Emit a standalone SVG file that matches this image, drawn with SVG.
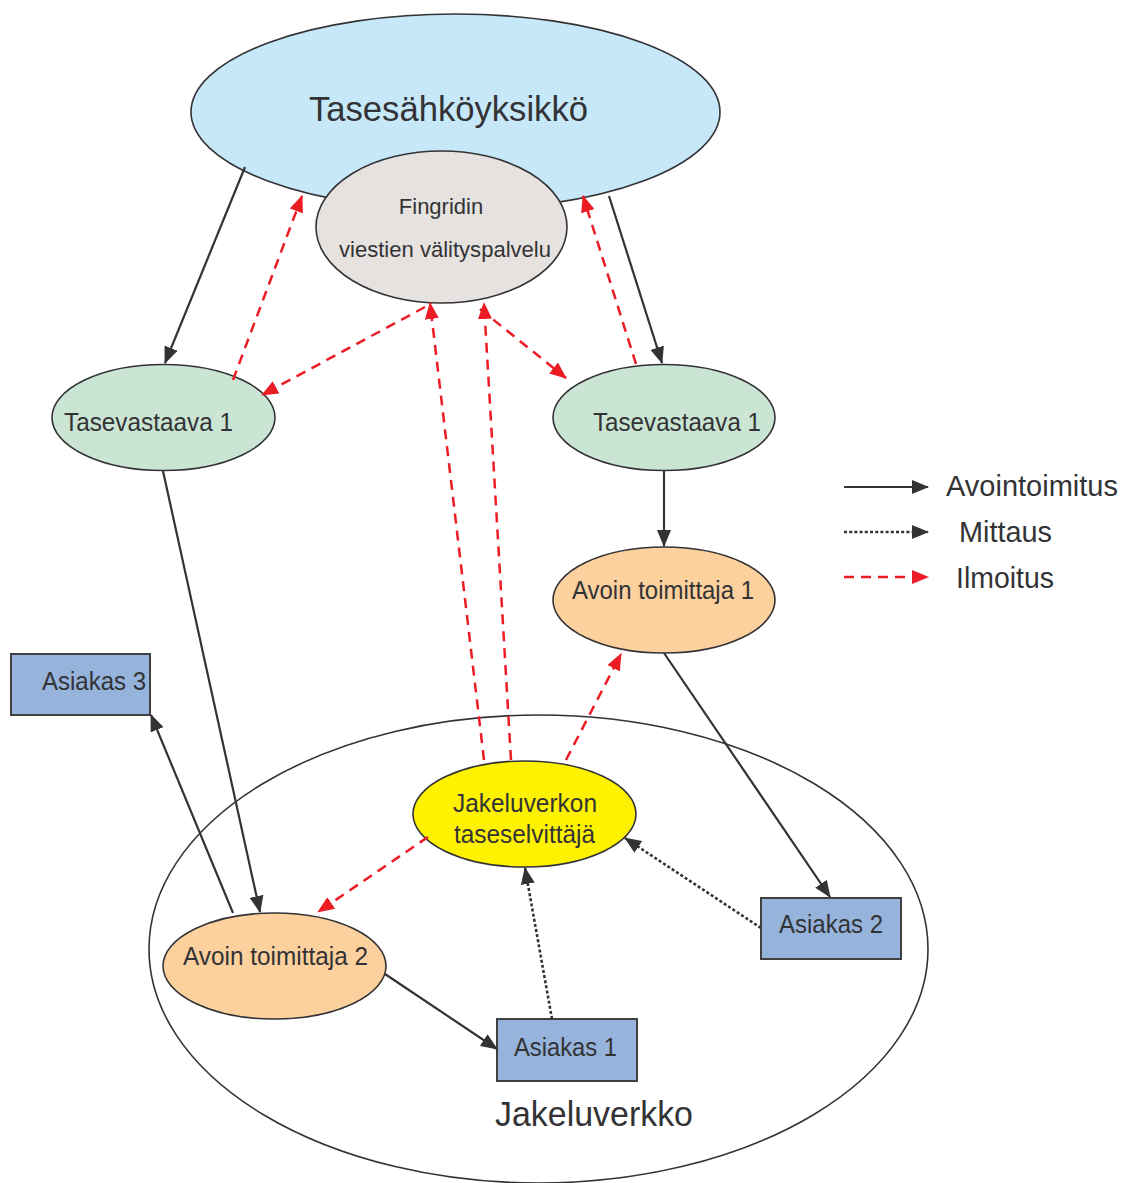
<svg xmlns="http://www.w3.org/2000/svg" width="1122" height="1183" viewBox="0 0 1122 1183">
  <style>
    text { font-family: "Liberation Sans", Arial, Helvetica, sans-serif; fill: #333336; }
    .node { stroke: #333336; stroke-width: 1.6; }
    .box { stroke: #404040; stroke-width: 2; }
    .lbl { font-size: 25px; }
    .solid { stroke: #333336; stroke-width: 2.2; fill: none; marker-end: url(#arrowDark); }
    .dotted { stroke: #333336; stroke-width: 2.6; stroke-dasharray: 3 2.2; fill: none; marker-end: url(#arrowDark); }
    .dashed { stroke: #ec1c24; stroke-width: 2.5; stroke-dasharray: 10 7; fill: none; marker-end: url(#arrowRed); }
  </style>
  <defs>
    <marker id="arrowDark" viewBox="0 0 17 14" refX="16" refY="7" markerWidth="17" markerHeight="14" markerUnits="userSpaceOnUse" orient="auto">
      <path d="M0,0 L17,7 L0,14 z" fill="#333336"/>
    </marker>
    <marker id="arrowRed" viewBox="0 0 17 14" refX="16" refY="7" markerWidth="17" markerHeight="14" markerUnits="userSpaceOnUse" orient="auto">
      <path d="M0,0 L17,7 L0,14 z" fill="#ec1c24"/>
    </marker>
  </defs>

  <rect width="1122" height="1183" fill="#ffffff"/>

  <!-- distribution network boundary -->
  <g id="jakeluverkko">
    <ellipse cx="538.5" cy="949" rx="389.5" ry="234" fill="none" stroke="#333336" stroke-width="1.6"/>
    <text x="495" y="1126" style="font-size:35px" textLength="198" lengthAdjust="spacingAndGlyphs">Jakeluverkko</text>
  </g>

  <g id="tasesahkoyksikko">
    <ellipse class="node" cx="455.5" cy="112" rx="264.5" ry="98" fill="#c6e8f8"/>
    <text x="309" y="121" style="font-size:35px" textLength="279" lengthAdjust="spacingAndGlyphs">Tasesähköyksikkö</text>
  </g>

  <g id="fingrid">
    <ellipse class="node" cx="441.5" cy="227" rx="125.5" ry="76" fill="#e6e2df"/>
    <text x="441" y="214" text-anchor="middle" style="font-size:22px">Fingridin</text>
    <text x="339" y="257" style="font-size:22px" textLength="212" lengthAdjust="spacingAndGlyphs">viestien välityspalvelu</text>
  </g>

  <g id="tasevastaava-left">
    <ellipse class="node" cx="163.5" cy="417.5" rx="111.5" ry="53" fill="#cbe5d4"/>
    <text class="lbl" x="64" y="431" textLength="169" lengthAdjust="spacingAndGlyphs">Tasevastaava 1</text>
  </g>

  <g id="tasevastaava-right">
    <ellipse class="node" cx="664" cy="417.5" rx="111" ry="53" fill="#cbe5d4"/>
    <text class="lbl" x="593" y="431" textLength="168" lengthAdjust="spacingAndGlyphs">Tasevastaava 1</text>
  </g>

  <g id="avoin-toimittaja-1">
    <ellipse class="node" cx="664" cy="600" rx="111" ry="53" fill="#fdd19d"/>
    <text class="lbl" x="572" y="599" textLength="182" lengthAdjust="spacingAndGlyphs">Avoin toimittaja 1</text>
  </g>

  <g id="asiakas-3">
    <rect class="box" x="11" y="654" width="139" height="61" fill="#95b3db"/>
    <text class="lbl" x="42" y="690" textLength="104" lengthAdjust="spacingAndGlyphs">Asiakas 3</text>
  </g>

  <g id="taseselvittaja">
    <ellipse class="node" cx="524.5" cy="814" rx="111.5" ry="53" fill="#fff200"/>
    <text class="lbl" x="453" y="812" textLength="144" lengthAdjust="spacingAndGlyphs">Jakeluverkon</text>
    <text class="lbl" x="454" y="843" textLength="141" lengthAdjust="spacingAndGlyphs">taseselvittäjä</text>
  </g>

  <g id="asiakas-2">
    <rect class="box" x="761" y="898" width="140" height="61" fill="#95b3db"/>
    <text class="lbl" x="779" y="933" textLength="104" lengthAdjust="spacingAndGlyphs">Asiakas 2</text>
  </g>

  <g id="avoin-toimittaja-2">
    <ellipse class="node" cx="274.5" cy="966" rx="111.5" ry="53" fill="#fdd19d"/>
    <text class="lbl" x="183" y="965" textLength="185" lengthAdjust="spacingAndGlyphs">Avoin toimittaja 2</text>
  </g>

  <g id="asiakas-1">
    <rect class="box" x="497" y="1019" width="140" height="62" fill="#95b3db"/>
    <text class="lbl" x="514" y="1056" textLength="103" lengthAdjust="spacingAndGlyphs">Asiakas 1</text>
  </g>

  <g id="connectors">
    <!-- supply (solid) -->
    <line class="solid" x1="245" y1="167" x2="165" y2="363"/>
    <line class="solid" x1="609" y1="196" x2="662" y2="363"/>
    <line class="solid" x1="664" y1="471" x2="664" y2="546"/>
    <line class="solid" x1="163" y1="471" x2="260" y2="912"/>
    <line class="solid" x1="233" y1="913" x2="151" y2="715"/>
    <line class="solid" x1="664" y1="653" x2="830" y2="897"/>
    <line class="solid" x1="385" y1="974" x2="497" y2="1049"/>
    <!-- metering (dotted) -->
    <line class="dotted" x1="552" y1="1019" x2="525" y2="868"/>
    <line class="dotted" x1="761" y1="928" x2="625" y2="838"/>
    <!-- notifications (dashed) -->
    <line class="dashed" x1="233" y1="380" x2="302" y2="196"/>
    <line class="dashed" x1="425" y1="307" x2="262" y2="395"/>
    <line class="dashed" x1="480" y1="309" x2="566" y2="378"/>
    <line class="dashed" x1="636" y1="364" x2="583" y2="196"/>
    <line class="dashed" x1="484" y1="760" x2="430" y2="303"/>
    <line class="dashed" x1="511" y1="760" x2="484" y2="303"/>
    <line class="dashed" x1="566" y1="760" x2="621" y2="654"/>
    <line class="dashed" x1="428" y1="837" x2="318" y2="912"/>
  </g>

  <g id="legend">
    <line class="solid" x1="844" y1="487" x2="928" y2="487"/>
    <text x="946" y="496" style="font-size:29px" textLength="172" lengthAdjust="spacingAndGlyphs">Avointoimitus</text>
    <line class="dotted" x1="844" y1="532" x2="928" y2="532"/>
    <text x="959" y="542" style="font-size:29px" textLength="93" lengthAdjust="spacingAndGlyphs">Mittaus</text>
    <line class="dashed" x1="844" y1="577" x2="928" y2="577"/>
    <text x="956" y="588" style="font-size:29px" textLength="98" lengthAdjust="spacingAndGlyphs">Ilmoitus</text>
  </g>
</svg>
